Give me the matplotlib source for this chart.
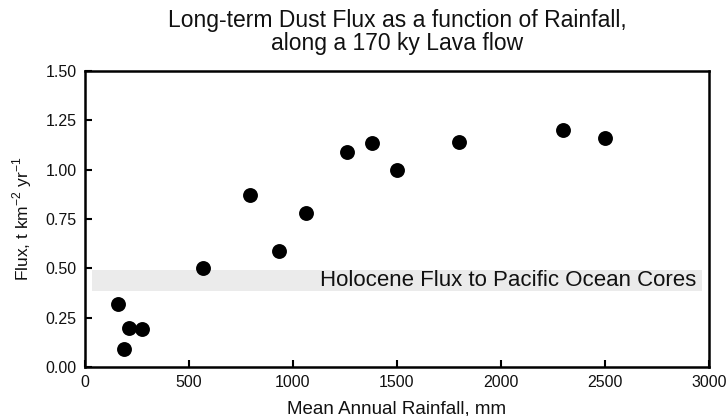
import matplotlib
matplotlib.use("Agg")
import matplotlib.pyplot as plt

plt.rcParams['font.family'] = ['Liberation Sans', 'DejaVu Sans']
plt.rcParams['mathtext.fontset'] = 'custom'
plt.rcParams['mathtext.rm'] = 'Liberation Sans'

rainfall = [160, 187, 211, 272, 569, 792, 933, 1064, 1261, 1382, 1502, 1798, 2298, 2500]
flux = [0.32, 0.09, 0.20, 0.195, 0.50, 0.87, 0.59, 0.78, 1.087, 1.134, 0.998, 1.138, 1.20, 1.163]

band_low, band_high = 0.385, 0.49
band_x0, band_x1 = 35, 2965
band_label = "Holocene Flux to Pacific Ocean Cores"

xticks = [0, 500, 1000, 1500, 2000, 2500, 3000]
yticks = [0.0, 0.25, 0.5, 0.75, 1.0, 1.25, 1.5]

fig = plt.figure(figsize=(7.27, 4.16), dpi=100)
ax = fig.add_axes([85/727, (416-367)/416, (709-85)/727, (367-71)/416])

ax.fill_between([band_x0, band_x1], band_low, band_high, color='#ebebeb', lw=0, zorder=1)
ax.text(band_x1 - 25, (band_low + band_high) / 2, band_label, ha='right', va='center',
        fontsize=16, color='#111111', zorder=2)

ax.scatter(rainfall, flux, s=115, color='black', zorder=3, linewidths=0)

ax.set_xlim(0, 3000)
ax.set_ylim(0, 1.5)
ax.set_xticks(xticks)
ax.set_yticks(yticks)
ax.set_xticklabels([str(v) for v in xticks])
ax.set_yticklabels([f"{v:.2f}" for v in yticks])
ax.tick_params(direction='in', length=5, width=1.5, labelsize=11.5, pad=6, labelcolor='#111111')
ax.tick_params(top=False, right=False)
for s in ax.spines.values():
    s.set_linewidth(1.8)

ax.set_xlabel("Mean Annual Rainfall, mm", fontsize=13.5, labelpad=7, color='#111111')
ax.set_ylabel(r"Flux, t km$^{\mathregular{-2}}$ yr$^{\mathregular{-1}}$", fontsize=12.5,
              labelpad=8, color='#111111')
ax.set_title("Long-term Dust Flux as a function of Rainfall,\nalong a 170 ky Lava flow",
             fontsize=16.5, pad=15, linespacing=1.0, color='#111111')

fig.savefig("out.png", dpi=100)
